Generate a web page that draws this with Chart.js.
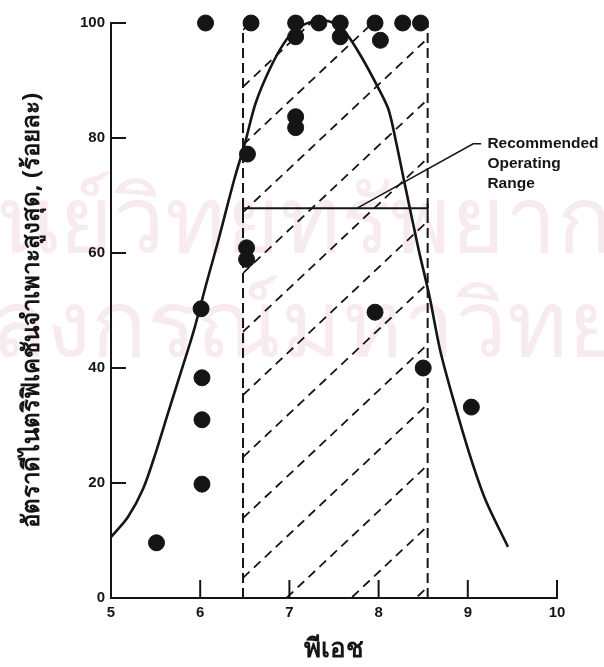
<!DOCTYPE html>
<html>
<head>
<meta charset="utf-8">
<script src="https://cdn.jsdelivr.net/npm/chart.js@4"></script>
<style>
  html, body { margin: 0; padding: 0; background: #fff; }
  #wrap { width: 604px; height: 667px; }
</style>
</head>
<body>
<div id="wrap"><canvas id="nitriChart" width="604" height="667"></canvas></div>
<script>
// axis ticks
const phTicks = [5, 6, 7, 8, 9, 10];
const rateTicks = [0, 20, 40, 60, 80, 100];

// observed points (pH, % of max specific nitrification rate)
const obsPH   = [5.51, 6.02, 6.02, 6.02, 6.01, 6.52, 6.52, 6.53, 6.06, 6.57, 7.07, 7.07, 7.33, 7.57, 7.57, 7.96, 8.02, 8.27, 8.47, 7.07, 7.07, 7.96, 8.50, 9.04];
const obsRate = [9.6, 19.8, 31.0, 38.3, 50.3, 60.9, 58.9, 77.2, 100, 100, 100, 97.6, 100, 100, 97.6, 100, 97.0, 100, 100, 83.7, 81.8, 49.7, 40.0, 33.2];

// fitted curve
const curvePH   = [5.0, 5.19, 5.36, 5.5, 5.64, 5.78, 5.93, 6.08, 6.2, 6.38, 6.5, 6.62, 6.78, 6.94, 7.08, 7.3, 7.5, 7.65, 7.8, 7.99, 8.11, 8.2, 8.3, 8.45, 8.57, 8.69, 8.84, 9.03, 9.2, 9.45];
const curveRate = [10.6, 14.1, 19.0, 25.2, 32.2, 39.1, 46.6, 55.3, 62.0, 72.7, 79.0, 86.0, 92.0, 96.5, 99.0, 100.4, 100.0, 97.9, 94.3, 88.9, 85.0, 79.0, 71.5, 60.5, 52.5, 43.1, 34.4, 24.5, 17.0, 8.9];

// recommended operating range (dashed box + hatching)
const rangePH = [6.48, 8.55];
const rangeTopRate = [98.5, 99.7];
const operatingLevel = 67.8;
const hatchLeftRate = [-28.3, -17.7, -7.1, 3.5, 13.9, 24.5, 35.3, 46.3, 56.5, 67.1, 78.8, 88.9, 98.8];
const hatchSlope = 14.6;

// leader line + note
const leaderPH = [7.76, 9.06, 9.15];
const leaderRate = [67.8, 79.0, 79.0];
const noteLines = ['Recommended', 'Operating', 'Range'];
const notePos = [9.22, 79.0];

const ink = '#151515';

function pts(xs, ys) {
    return xs.map((x, i) => ({ x: x, y: ys[i] }));
}

// watermark + hatching + inner ticks + note text
const extrasPlugin = {
    id: 'extras',
    beforeDraw(chart) {
        const ctx = chart.ctx;
        ctx.save();
        ctx.fillStyle = '#f7eaf1';
        ctx.font = '92px "Noto Sans", sans-serif';
        ctx.textBaseline = 'middle';
        ctx.textAlign = 'center';
        ctx.fillText('ศูนย์วิทยทรัพยากร', 300, 226);
        ctx.fillText('จุฬาลงกรณ์มหาวิทยาลัย', 302, 330);
        ctx.restore();
    },
    beforeDatasetsDraw(chart) {
        const {ctx, scales: {x, y}} = chart;
        const left = x.getPixelForValue(rangePH[0]);
        const right = x.getPixelForValue(rangePH[1]);
        const top = y.getPixelForValue(100);
        const bottom = y.getPixelForValue(0);
        ctx.save();
        ctx.beginPath();
        ctx.rect(left, top, right - left, bottom - top);
        ctx.clip();
        ctx.strokeStyle = ink;
        ctx.lineWidth = 1.8;
        ctx.setLineDash([9, 6]);
        hatchLeftRate.forEach(c => {
            const x0 = rangePH[0], x1 = rangePH[1];
            ctx.beginPath();
            ctx.moveTo(x.getPixelForValue(x0), y.getPixelForValue(c));
            ctx.lineTo(x.getPixelForValue(x1), y.getPixelForValue(c + hatchSlope * (x1 - x0)));
            ctx.stroke();
        });
        ctx.restore();

        // inner ticks
        ctx.save();
        ctx.strokeStyle = ink;
        ctx.lineWidth = 2;
        phTicks.slice(1).forEach(v => {
            const px = x.getPixelForValue(v);
            ctx.beginPath();
            ctx.moveTo(px, bottom);
            ctx.lineTo(px, bottom - 18);
            ctx.stroke();
        });
        rateTicks.slice(1).forEach(v => {
            const py = y.getPixelForValue(v);
            ctx.beginPath();
            ctx.moveTo(x.left, py);
            ctx.lineTo(x.left + 15, py);
            ctx.stroke();
        });
        ctx.restore();
    },
    afterDatasetsDraw(chart) {
        const {ctx, scales: {x, y}} = chart;
        ctx.save();
        ctx.fillStyle = ink;
        ctx.font = 'bold 15.5px "Liberation Sans", Arial, sans-serif';
        ctx.textBaseline = 'middle';
        ctx.textAlign = 'left';
        const px = x.getPixelForValue(notePos[0]);
        const py = y.getPixelForValue(notePos[1]);
        noteLines.forEach((t, i) => ctx.fillText(t, px, py + i * 20));
        ctx.restore();
    }
};

const ctx = document.getElementById('nitriChart').getContext('2d');
new Chart(ctx, {
    type: 'scatter',
    data: {
        datasets: [
            {
                label: 'curve',
                type: 'line',
                data: pts(curvePH, curveRate),
                borderColor: ink,
                borderWidth: 2.6,
                pointRadius: 0,
                tension: 0.3,
                fill: false,
                clip: false
            },
            {
                label: 'range low',
                type: 'line',
                data: pts([rangePH[0], rangePH[0]], [0, rangeTopRate[0]]),
                borderColor: ink,
                borderWidth: 2,
                borderDash: [10, 5],
                pointRadius: 0
            },
            {
                label: 'range high',
                type: 'line',
                data: pts([rangePH[1], rangePH[1]], [0, rangeTopRate[1]]),
                borderColor: ink,
                borderWidth: 2,
                borderDash: [10, 5],
                pointRadius: 0
            },
            {
                label: 'operating level',
                type: 'line',
                data: pts(rangePH, [operatingLevel, operatingLevel]),
                borderColor: ink,
                borderWidth: 2,
                pointStyle: 'line',
                pointRotation: 90,
                pointRadius: 5,
                pointBorderWidth: 2,
                pointBorderColor: ink
            },
            {
                label: 'leader',
                type: 'line',
                data: pts(leaderPH, leaderRate),
                borderColor: ink,
                borderWidth: 1.6,
                pointRadius: 0,
                clip: false
            },
            {
                label: 'observed',
                data: pts(obsPH, obsRate),
                backgroundColor: ink,
                borderColor: ink,
                pointRadius: 8,
                pointHoverRadius: 8,
                clip: false
            }
        ]
    },
    plugins: [extrasPlugin],
    options: {
        responsive: false,
        animation: false,
        events: [],
        layout: { padding: { left: 0, right: 47, top: 23, bottom: 0 } },
        plugins: {
            legend: { display: false },
            tooltip: { enabled: false }
        },
        scales: {
            x: {
                type: 'linear',
                min: 5,
                max: 10,
                afterFit(scale) { scale.height = 69; },
                afterBuildTicks(scale) { scale.ticks = phTicks.map(v => ({ value: v })); },
                grid: { display: false, drawTicks: false },
                border: { display: true, color: ink, width: 2 },
                ticks: {
                    padding: 6,
                    color: ink,
                    font: { family: '"Liberation Sans", Arial, sans-serif', size: 15, weight: 'bold' }
                },
                title: {
                    display: true,
                    text: 'พีเอช',
                    color: ink,
                    font: { family: '"Noto Sans", sans-serif', size: 26, weight: 'bold' },
                    padding: { top: 0, bottom: 2 }
                }
            },
            y: {
                type: 'linear',
                min: 0,
                max: 100,
                afterFit(scale) { scale.width = 111; },
                afterBuildTicks(scale) { scale.ticks = rateTicks.map(v => ({ value: v })); },
                grid: { display: false, drawTicks: false },
                border: { display: true, color: ink, width: 2 },
                ticks: {
                    padding: 6,
                    color: ink,
                    font: { family: '"Liberation Sans", Arial, sans-serif', size: 15, weight: 'bold' }
                },
                title: {
                    display: true,
                    text: 'อัตราดีไนตริฟิเคชันจำเพาะสูงสุด, (ร้อยละ)',
                    color: ink,
                    font: { family: '"Noto Sans", sans-serif', size: 24, weight: 'bold' },
                    padding: { top: 18, bottom: 0 }
                }
            }
        }
    }
});
</script>
</body>
</html>
